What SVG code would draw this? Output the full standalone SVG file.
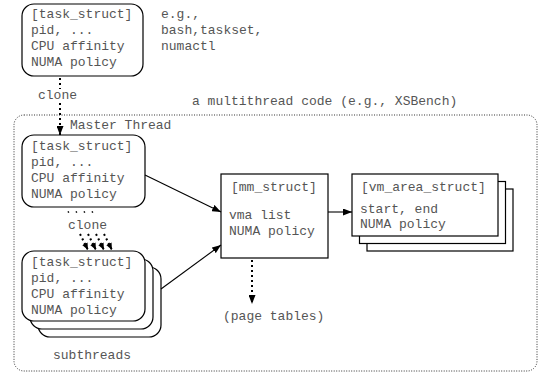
<svg xmlns="http://www.w3.org/2000/svg" width="540" height="375" viewBox="0 0 540 375">
<defs>
<marker id="ah" markerUnits="userSpaceOnUse" markerWidth="9" markerHeight="7" refX="9" refY="3.5" orient="auto"><path d="M0,0 L9,3.5 L0,7 z" fill="#000"/></marker>
<marker id="ahs" markerUnits="userSpaceOnUse" markerWidth="7" markerHeight="6" refX="7" refY="3" orient="auto"><path d="M0,0 L7,3 L0,6 z" fill="#000"/></marker>
<style>
text{font-family:"Liberation Mono","Courier New",monospace;font-size:13px;fill:#555}
.rb{fill:#fff;stroke:#000;stroke-width:1.2}
.sb{fill:#fff;stroke:#000;stroke-width:1.2}
.ln{stroke:#000;stroke-width:1.1;fill:none}
.dt{stroke:#000;stroke-width:2;fill:none;stroke-dasharray:2 3}
.dd{stroke:#000;stroke-width:1.4;fill:none}
.outer{fill:none;stroke:#333;stroke-width:1;stroke-dasharray:1 1.5}
</style>
</defs>
<rect class="outer" x="14" y="115" width="523" height="256" rx="10"/>
<text x="192" y="105">a multithread code (e.g., XSBench)</text>
<text x="70" y="129">Master Thread</text>
<g id="proc">
<rect class="rb" x="22" y="4" width="121" height="72" rx="12"/>
<text x="31" y="18">[task_struct]</text>
<text x="31" y="34">pid, ...</text>
<text x="31" y="50">CPU affinity</text>
<text x="31" y="66">NUMA policy</text>
</g>
<g id="note">
<text x="161" y="18">e.g.,</text>
<text x="161" y="34">bash,taskset,</text>
<text x="161" y="50">numactl</text>
</g>
<g id="master">
<rect class="rb" x="22" y="135" width="123" height="72" rx="12"/>
<text x="31" y="150">[task_struct]</text>
<text x="31" y="166">pid, ...</text>
<text x="31" y="182">CPU affinity</text>
<text x="31" y="198">NUMA policy</text>
</g>
<g id="subthreads">
<rect class="rb" x="38" y="267" width="123" height="70" rx="12"/>
<rect class="rb" x="30" y="259" width="123" height="70" rx="12"/>
<rect class="rb" x="22" y="251" width="123" height="70" rx="12"/>
<text x="31" y="266">[task_struct]</text>
<text x="31" y="282">pid, ...</text>
<text x="31" y="298">CPU affinity</text>
<text x="31" y="314">NUMA policy</text>
<text x="53" y="359">subthreads</text>
</g>
<g id="mm">
<rect class="sb" x="221" y="174" width="107" height="84"/>
<text x="231" y="191">[mm_struct]</text>
<text x="229" y="219">vma list</text>
<text x="229" y="235">NUMA policy</text>
</g>
<g id="vma">
<rect class="sb" x="367" y="189" width="146" height="62" stroke="#444"/>
<rect class="sb" x="359.5" y="181.5" width="146" height="62"/>
<rect class="sb" x="352" y="174" width="146" height="62"/>
<text x="361" y="191">[vm_area_struct]</text>
<text x="360" y="213">start, end</text>
<text x="360" y="228">NUMA policy</text>
</g>
<g id="pt">
<text x="223" y="320">(page tables)</text>
</g>
<g id="connectors">
<line class="dt" x1="60" y1="78" x2="60" y2="89"/>
<text x="38" y="99">clone</text>
<line class="dt" x1="60" y1="103" x2="60" y2="135" marker-end="url(#ah)"/>
<line class="dd" x1="68" y1="211.3" x2="68.8" y2="212.7"/>
<line class="dd" x1="76" y1="211.3" x2="76.8" y2="212.7"/>
<line class="dd" x1="84" y1="211.3" x2="84.8" y2="212.7"/>
<line class="dd" x1="92" y1="211.3" x2="92.8" y2="212.7"/>
<text x="68" y="229">clone</text>
<line class="dt" x1="80" y1="234" x2="88" y2="250" marker-end="url(#ahs)"/>
<line class="dt" x1="88" y1="234" x2="96" y2="250" marker-end="url(#ahs)"/>
<line class="dt" x1="96" y1="234" x2="104" y2="250" marker-end="url(#ahs)"/>
<line class="dt" x1="104" y1="234" x2="112" y2="250" marker-end="url(#ahs)"/>
<line class="ln" x1="145" y1="175" x2="221" y2="212" marker-end="url(#ah)"/>
<line class="ln" x1="161" y1="289" x2="221" y2="245" marker-end="url(#ah)"/>
<line class="ln" x1="328" y1="212" x2="352" y2="212" marker-end="url(#ah)"/>
<line class="dt" x1="252" y1="260" x2="252" y2="304" marker-end="url(#ah)" stroke-width="1.5"/>
</g>
</svg>
